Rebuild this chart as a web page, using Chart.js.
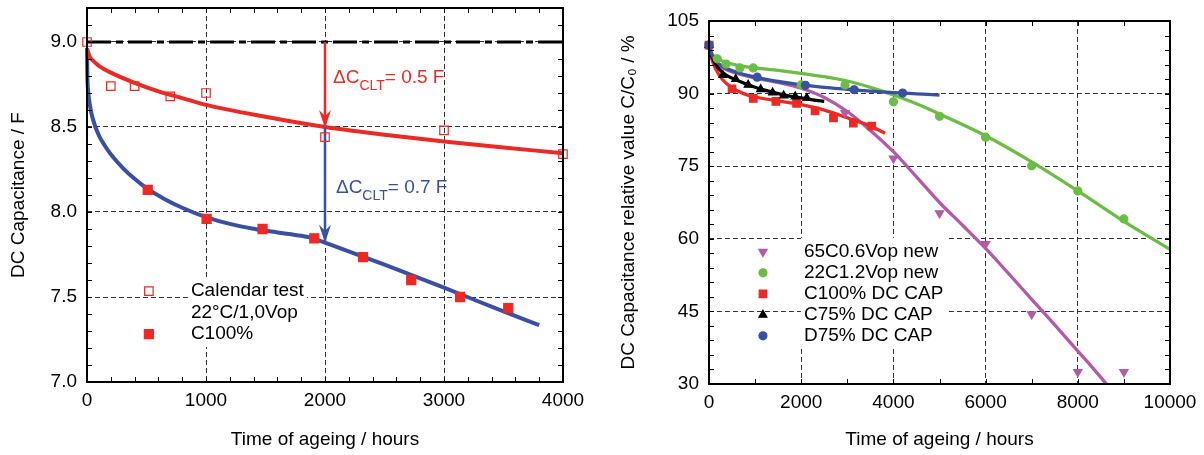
<!DOCTYPE html>
<html>
<head>
<meta charset="utf-8">
<title>DC capacitance ageing</title>
<script src="https://cdn.jsdelivr.net/npm/chart.js@4.4.1/dist/chart.umd.min.js"></script>
<style>
  body { margin: 0; background: #fff; }
  #wrap { position: relative; width: 1204px; height: 455px; }
  canvas { position: absolute; top: 0; }
  #left { left: 0; }
  #right { left: 600px; }
</style>
</head>
<body>
<div id="wrap">
  <canvas id="left" width="600" height="455"></canvas>
  <canvas id="right" width="604" height="455"></canvas>
</div>
<script>
// ---------- left panel (capacitance in F) ----------
var leftXTicks = [0, 1000, 2000, 3000, 4000];
var leftYTicks = [7.0, 7.5, 8.0, 8.5, 9.0];

var calHours = [0, 200, 400, 700, 1000, 2000, 3000, 4000];
var calCap   = [9.0, 8.74, 8.74, 8.68, 8.70, 8.44, 8.48, 8.34];
var c100Hours = [510, 1005, 1475, 1910, 2320, 2725, 3135, 3540];
var c100Cap   = [8.13, 7.96, 7.90, 7.845, 7.735, 7.60, 7.50, 7.435];

// fitted curves
var calFitHours = [0, 25, 50, 100, 200, 400, 600, 800, 1000, 1500, 2000, 2500, 3000, 3500, 4000];
var calFitCap   = [8.96, 8.91, 8.89, 8.86, 8.82, 8.76, 8.71, 8.67, 8.63, 8.56, 8.50, 8.455, 8.415, 8.38, 8.345];
var c100FitHours = [0, 3, 10, 25, 50, 100, 150, 200, 300, 400, 500, 650, 800, 1000, 1200, 1400, 1600, 1800, 1900, 2000, 2500, 3000, 3500, 3800];
var c100FitCap   = [8.965, 8.80, 8.71, 8.625, 8.545, 8.45, 8.39, 8.34, 8.26, 8.195, 8.14, 8.077, 8.025, 7.97, 7.93, 7.902, 7.88, 7.86, 7.845, 7.82, 7.69, 7.555, 7.415, 7.335];

var nominalHours = [0, 4000];
var nominalCap   = [9.0, 9.0];
var arrowHours = [2000, 2000];
var redArrowCap  = [9.0, 8.5];
var blueArrowCap = [8.5, 7.825];

var leftLegendLabels = ['Calendar test', '22\u00b0C/1,0Vop', 'C100%'];

// ---------- right panel (relative value in %) ----------
var rightXTicks = [0, 2000, 4000, 6000, 8000, 10000];
var rightYTicks = [30, 45, 60, 75, 90, 105];

var p65Hours = [0, 2950, 4000, 5000, 6000, 7000, 8000, 9000];
var p65Val   = [100, 86.0, 76.6, 65.3, 58.9, 44.4, 32.5, 32.5];
var g22Hours = [0, 180, 370, 670, 960, 2000, 2950, 4000, 5000, 6000, 7000, 8000, 9000];
var g22Val   = [100, 97.2, 96.1, 95.3, 95.3, 91.8, 91.8, 88.3, 85.3, 81.0, 75.1, 69.9, 64.1];
var r100Hours = [0, 500, 960, 1450, 1900, 2300, 2700, 3130, 3530];
var r100Val   = [100, 91.0, 89.0, 88.4, 88.0, 86.4, 85.0, 83.9, 83.3];
var c75Hours = [0, 300, 580, 850, 1120, 1380, 1620, 1870, 2120];
var c75Val   = [100, 93.8, 93.0, 91.8, 90.9, 90.2, 89.6, 89.4, 89.1];
var d75Hours = [0, 1045, 2090, 3150, 4200];
var d75Val   = [100, 93.4, 91.7, 90.8, 90.1];

var p65FitHours = [0, 100, 300, 600, 1000, 1500, 2000, 2500, 3000, 3500, 4000, 4500, 5000, 5500, 6000, 6500, 7000, 7500, 8000, 8300, 8620];
var p65FitVal   = [100, 97, 95.3, 94.2, 93.2, 92.3, 91.1, 89.2, 86.3, 82.4, 78, 72.8, 67.5, 62.8, 58, 52.8, 47.5, 42.2, 36.8, 33.6, 30];
var g22FitHours = [0, 50, 150, 300, 600, 1000, 1500, 2000, 2500, 3000, 3500, 4000, 4500, 5000, 6000, 7000, 8000, 9000, 10000];
var g22FitVal   = [100, 98.5, 97.4, 96.7, 95.9, 95.3, 94.8, 94.2, 93.5, 92.6, 91.3, 89.7, 87.9, 85.8, 81.3, 75.9, 69.9, 63.6, 57.8];
var r100FitHours = [0, 50, 150, 300, 500, 750, 1000, 1500, 2000, 2500, 3000, 3500, 3820];
var r100FitVal   = [100, 97.5, 95, 92.8, 91.2, 90, 89.3, 88.5, 87.7, 86.6, 85, 83.3, 81.8];
var c75FitHours = [0, 50, 150, 300, 500, 750, 1000, 1250, 1500, 1750, 2000, 2250, 2500];
var c75FitVal   = [100, 98, 96, 94.3, 93.2, 92.2, 91.3, 90.6, 90, 89.5, 89.1, 88.7, 88.4];
var d75FitHours = [0, 50, 150, 300, 600, 1000, 1500, 2000, 2500, 3000, 3500, 4000, 4500, 5000];
var d75FitVal   = [100, 98.3, 96.8, 95.6, 94.4, 93.4, 92.5, 91.8, 91.3, 90.9, 90.5, 90.2, 89.95, 89.7];

var rightLegendLabels = ['65C0.6Vop new', '22C1.2Vop new', 'C100% DC CAP', 'C75% DC CAP', 'D75% DC CAP'];

var RED = '#ec2a25', BLUE = '#3a50a0', GREEN = '#6cbd45', PURPLE = '#b35aa8', BLACK = '#000';
var FONT = "'Liberation Sans', Arial, Helvetica, sans-serif";

Chart.defaults.font.family = FONT;
Chart.defaults.font.size = 19;
Chart.defaults.color = '#000';

function pts(xs, ys) {
  return xs.map(function (x, i) { return {x: x, y: ys[i]}; });
}

function fitLine(xs, ys, color, width) {
  return {
    data: pts(xs, ys), showLine: true, borderColor: color, borderWidth: width,
    pointRadius: 0, cubicInterpolationMode: 'monotone', fill: false, clip: false
  };
}

function marks(label, xs, ys, style, radius, fillColor, edgeColor, rot) {
  return {
    label: label, data: pts(xs, ys), showLine: false, pointStyle: style, pointRadius: radius,
    pointRotation: rot || 0, backgroundColor: fillColor, borderColor: edgeColor,
    pointBorderWidth: 1.2, clip: false
  };
}

// inward ticks, frame, legend, arrows and the delta labels
var panelDecor = {
  id: 'panelDecor',
  beforeDatasetsDraw: function (chart, args, o) {
    var ctx = chart.ctx, x = chart.scales.x, y = chart.scales.y;
    var lx = x.getPixelForValue(o.legendAt[0]), ly = y.getPixelForValue(o.legendAt[1]);
    ctx.save();
    ctx.font = '19px ' + FONT;
    var w = 0;
    o.legendRows.forEach(function (r) { w = Math.max(w, ctx.measureText(r[0]).width); });
    ctx.fillStyle = '#fff';
    ctx.fillRect(lx + o.textGap - 3, ly - 14, w + 6, (o.legendRows.length - 1) * o.rowGap + 27);
    ctx.restore();
  },
  afterDatasetsDraw: function (chart, args, o) {
    var ctx = chart.ctx, a = chart.chartArea, x = chart.scales.x, y = chart.scales.y;
    var i, n;
    ctx.save();
    ctx.strokeStyle = '#000';
    ctx.lineWidth = 1;
    ctx.beginPath();
    n = Math.round((x.max - x.min) / o.minorX);
    for (i = 0; i <= n; i++) {
      var px = Math.round(x.getPixelForValue(x.min + i * o.minorX)) + 0.5;
      ctx.moveTo(px, a.bottom); ctx.lineTo(px, a.bottom - 5);
      ctx.moveTo(px, a.top); ctx.lineTo(px, a.top + 5);
    }
    n = Math.round((y.max - y.min) / o.minorY);
    for (i = 0; i <= n; i++) {
      var py = Math.round(y.getPixelForValue(y.min + i * o.minorY)) + 0.5;
      ctx.moveTo(a.left, py); ctx.lineTo(a.left + 5, py);
      ctx.moveTo(a.right, py); ctx.lineTo(a.right - 5, py);
    }
    ctx.stroke();
    ctx.lineWidth = 2;
    ctx.strokeRect(a.left, a.top, a.right - a.left, a.bottom - a.top);

    // legend
    var lx = x.getPixelForValue(o.legendAt[0]), ly = y.getPixelForValue(o.legendAt[1]);
    ctx.font = '19px ' + FONT;
    ctx.textBaseline = 'middle';
    ctx.textAlign = 'left';
    o.legendRows.forEach(function (r, k) {
      var ry = ly + k * o.rowGap;
      if (r[1] >= 0) {
        var po = chart.getDatasetMeta(r[1]).data[0].options;
        ctx.fillStyle = po.backgroundColor;
        ctx.strokeStyle = po.borderColor;
        ctx.lineWidth = po.borderWidth;
        Chart.helpers.drawPoint(ctx, po, lx, ry);
      }
      ctx.fillStyle = '#000';
      ctx.fillText(r[0], lx + o.textGap, ry);
    });

    // arrow heads at the end of the arrow shafts
    (o.arrows || []).forEach(function (idx) {
      var meta = chart.getDatasetMeta(idx);
      var tip = meta.data[meta.data.length - 1];
      var col = chart.data.datasets[idx].borderColor;
      ctx.fillStyle = col;
      ctx.beginPath();
      ctx.moveTo(tip.x, tip.y + 1);
      ctx.lineTo(tip.x - 6, tip.y - 17);
      ctx.lineTo(tip.x, tip.y - 11);
      ctx.lineTo(tip.x + 6, tip.y - 17);
      ctx.closePath();
      ctx.fill();
    });

    // delta C labels with subscript
    ctx.textBaseline = 'alphabetic';
    (o.deltas || []).forEach(function (d) {
      var dx = x.getPixelForValue(d.at[0]), dy = y.getPixelForValue(d.at[1]);
      ctx.fillStyle = d.color;
      ctx.font = '19px ' + FONT;
      ctx.fillText('\u0394C', dx, dy);
      dx += ctx.measureText('\u0394C').width;
      ctx.font = '14px ' + FONT;
      ctx.fillText('CLT', dx, dy + 7);
      dx += ctx.measureText('CLT').width;
      ctx.font = '19px ' + FONT;
      ctx.fillText(d.text, dx, dy);
    });
    ctx.restore();
  }
};

function axes(xTicks, yTicks, xMin, xMax, yMin, yMax, yWidth, xHeight, yTitle, yTitlePad, yFmt) {
  return {
    x: {
      type: 'linear', min: xMin, max: xMax,
      afterBuildTicks: function (s) { s.ticks = xTicks.map(function (v) { return {value: v}; }); },
      afterFit: function (s) { s.height = xHeight; s.paddingLeft = 0; s.paddingRight = 0; },
      grid: { color: '#333', lineWidth: 1, drawTicks: false },
      border: { display: false, dash: [5, 3] },
      ticks: { padding: 7, autoSkip: false, maxRotation: 0, callback: function (v) { return String(v); } },
      title: { display: true, text: 'Time of ageing / hours', padding: {top: 0, bottom: 4} }
    },
    y: {
      type: 'linear', min: yMin, max: yMax,
      afterBuildTicks: function (s) { s.ticks = yTicks.map(function (v) { return {value: v}; }); },
      afterFit: function (s) { s.width = yWidth; s.paddingTop = 0; s.paddingBottom = 0; },
      grid: { color: '#333', lineWidth: 1, drawTicks: false },
      border: { display: false, dash: [5, 3] },
      ticks: { padding: 10, autoSkip: false, callback: yFmt },
      title: { display: true, text: yTitle, padding: {top: yTitlePad, bottom: 0} }
    }
  };
}

new Chart(document.getElementById('left'), {
  type: 'scatter',
  data: {
    datasets: [
      marks(leftLegendLabels[0], calHours, calCap, 'rect', 6, 'rgba(0,0,0,0)', RED),
      marks(leftLegendLabels[2], c100Hours, c100Cap, 'rect', 6.4, RED, RED),
      { data: pts(arrowHours, redArrowCap), showLine: true, borderColor: RED, borderWidth: 2.5, pointRadius: 0, clip: false },
      { data: pts(arrowHours, blueArrowCap), showLine: true, borderColor: BLUE, borderWidth: 2.5, pointRadius: 0, clip: false },
      fitLine(calFitHours, calFitCap, RED, 4),
      fitLine(c100FitHours, c100FitCap, BLUE, 4),
      { data: pts(nominalHours, nominalCap), showLine: true, borderColor: BLACK, borderWidth: 3.2,
        borderDash: [24, 5, 7, 5], pointRadius: 0, clip: false }
    ]
  },
  options: {
    responsive: false, animation: false, devicePixelRatio: 1,
    layout: { padding: { left: 0, top: 8, right: 37, bottom: 0 } },
    scales: axes(leftXTicks, leftYTicks, 0, 4000, 7.0, 9.2, 87, 73, 'DC Capacitance / F', 7,
      function (v) { return v.toFixed(1); }),
    plugins: {
      legend: { display: false },
      tooltip: { enabled: false },
      panelDecor: {
        minorX: 200, minorY: 0.1,
        legendAt: [520, 7.535], textGap: 42, rowGap: 21.5,
        legendRows: [[leftLegendLabels[0], 0], [leftLegendLabels[1], -1], [leftLegendLabels[2], 1]],
        arrows: [2, 3],
        deltas: [
          { at: [2067, 8.761], text: '= 0.5 F', color: RED },
          { at: [2092, 8.11], text: '= 0.7 F', color: BLUE }
        ]
      }
    }
  },
  plugins: [panelDecor]
});

new Chart(document.getElementById('right'), {
  type: 'scatter',
  data: {
    datasets: [
      marks(rightLegendLabels[4], d75Hours, d75Val, 'circle', 4, BLUE, BLUE),
      marks(rightLegendLabels[3], c75Hours, c75Val, 'triangle', 4.6, BLACK, BLACK),
      marks(rightLegendLabels[2], r100Hours, r100Val, 'rect', 5.3, RED, RED),
      marks(rightLegendLabels[1], g22Hours, g22Val, 'circle', 4, GREEN, GREEN),
      marks(rightLegendLabels[0], p65Hours, p65Val, 'triangle', 4.8, PURPLE, PURPLE, 180),
      fitLine(d75FitHours, d75FitVal, BLUE, 3.3),
      fitLine(c75FitHours, c75FitVal, BLACK, 3.3),
      fitLine(r100FitHours, r100FitVal, RED, 3.3),
      fitLine(g22FitHours, g22FitVal, GREEN, 3.3),
      fitLine(p65FitHours, p65FitVal, PURPLE, 3.3)
    ]
  },
  options: {
    responsive: false, animation: false, devicePixelRatio: 1,
    layout: { padding: { left: 0, top: 21, right: 34, bottom: 0 } },
    scales: axes(rightXTicks, rightYTicks, 0, 10000, 30, 105, 109, 71,
      'DC Capacitance relative value C/C\u2080 / %', 17, function (v) { return String(v); }),
    plugins: {
      legend: { display: false },
      tooltip: { enabled: false },
      panelDecor: {
        minorX: 1000, minorY: 3,
        legendAt: [1170, 57.3], textGap: 41, rowGap: 21,
        legendRows: [[rightLegendLabels[0], 4], [rightLegendLabels[1], 3], [rightLegendLabels[2], 2],
                     [rightLegendLabels[3], 1], [rightLegendLabels[4], 0]]
      }
    }
  },
  plugins: [panelDecor]
});
</script>
</body>
</html>
